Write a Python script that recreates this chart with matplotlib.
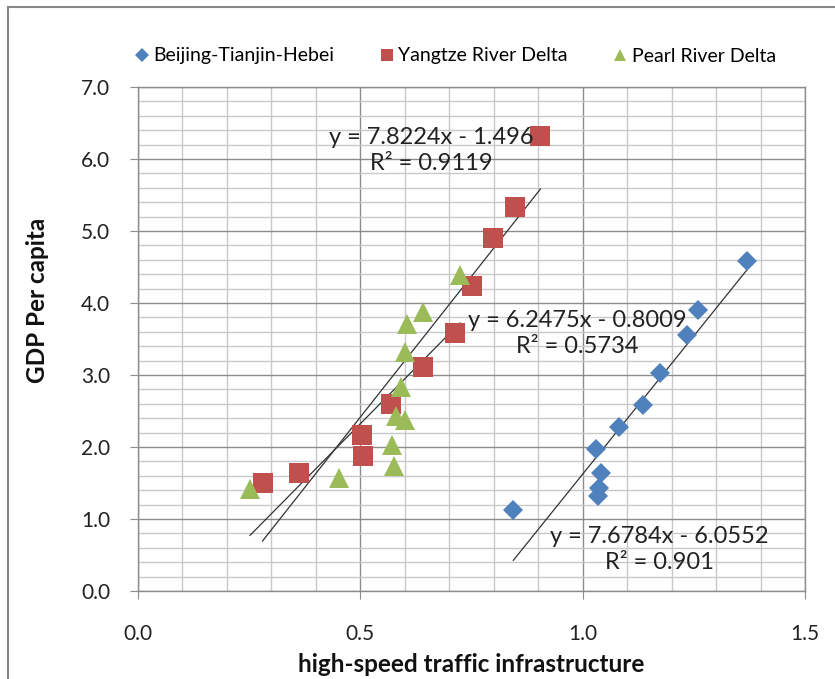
import numpy as np
import matplotlib
matplotlib.use("Agg")
import matplotlib.pyplot as plt
from matplotlib.ticker import MultipleLocator, FormatStrFormatter
from matplotlib.lines import Line2D

plt.rcParams['font.family'] = ['Lato', 'DejaVu Sans']

# --- Data ---
bth_x = [1.369, 1.260, 1.235, 1.175, 1.136, 1.081, 1.030, 1.041, 1.037, 1.035, 0.844]
bth_y = [4.58, 3.90, 3.55, 3.03, 2.59, 2.28, 1.97, 1.64, 1.43, 1.32, 1.13]

yrd_x = [0.905, 0.848, 0.798, 0.752, 0.714, 0.640, 0.570, 0.504, 0.507, 0.363, 0.280]
yrd_y = [6.32, 5.34, 4.90, 4.24, 3.59, 3.11, 2.60, 2.17, 1.87, 1.64, 1.50]

prd_x = [0.724, 0.642, 0.604, 0.600, 0.591, 0.581, 0.600, 0.572, 0.576, 0.452, 0.252]
prd_y = [4.39, 3.88, 3.71, 3.32, 2.83, 2.43, 2.38, 2.03, 1.74, 1.57, 1.41]

# trendline coefficients (slope, intercept) and R^2 as printed on the chart
bth_fit = (7.6784, -6.0552, "0.901")
yrd_fit = (7.8224, -1.496, "0.9119")
prd_fit = (6.2475, -0.8009, "0.5734")

series_names = ["Beijing-Tianjin-Hebei", "Yangtze River Delta", "Pearl River Delta"]
colors = ["#4F81BD", "#C0504D", "#9BBB59"]

# --- Figure ---
W, H = 835, 679
fig = plt.figure(figsize=(W / 100, H / 100), dpi=100)
ax = fig.add_axes([138 / W, 1 - 591 / H, (805 - 138) / W, (591 - 87) / H])

ax.set_xlim(0, 1.5)
ax.set_ylim(0, 7)
ax.xaxis.set_major_locator(MultipleLocator(0.5))
ax.xaxis.set_minor_locator(MultipleLocator(0.1))
ax.yaxis.set_major_locator(MultipleLocator(1.0))
ax.yaxis.set_minor_locator(MultipleLocator(0.2))
ax.xaxis.set_major_formatter(FormatStrFormatter('%.1f'))
ax.yaxis.set_major_formatter(FormatStrFormatter('%.1f'))

ax.grid(which='minor', color='#c8c8c8', linewidth=1.0)
ax.grid(which='major', color='#8c8c8c', linewidth=1.0)
ax.set_axisbelow(True)
for sp in ax.spines.values():
    sp.set_color('#8c8c8c')
    sp.set_linewidth(1.0)

ax.tick_params(which='major', direction='out', length=6, color='#8c8c8c',
               labelsize=15, labelcolor='#222222')
ax.tick_params(which='minor', length=0)
ax.tick_params(axis='x', pad=18)
ax.tick_params(axis='y', pad=14)

# trendlines over each series' x range
for xs, fit in [(bth_x, bth_fit), (yrd_x, yrd_fit), (prd_x, prd_fit)]:
    xx = np.array([min(xs), max(xs)])
    ax.plot(xx, fit[0] * xx + fit[1], color='#333333', linewidth=0.9, zorder=3)

# markers
ax.plot(bth_x, bth_y, 'D', color=colors[0], markersize=10, markeredgewidth=0, zorder=4)
ax.plot(yrd_x, yrd_y, 's', color=colors[1], markersize=14, markeredgewidth=0, zorder=4)
ax.plot(prd_x, prd_y, '^', color=colors[2], markersize=14, markeredgewidth=0, zorder=4)


# equation labels (placed like the Excel trendline labels)
def eq_label(x, y, fit):
    txt = f"y = {fit[0]}x - {abs(fit[1])}\nR\u00b2 = {fit[2]}"
    ax.text(x, y, txt, ha='center', va='center', fontsize=17, color='#222222',
            linespacing=1.3, zorder=5)


eq_label(0.659, 6.12, yrd_fit)
eq_label(0.988, 3.58, prd_fit)
eq_label(1.173, 0.58, bth_fit)

# axis titles
fig.text(471 / W, 1 - 664 / H, "high-speed traffic infrastructure", ha='center', va='center',
         fontsize=17.5, fontweight='bold', color='#111111')
fig.text(38 / W, 1 - 300 / H, "GDP Per capita", ha='center', va='center', rotation=90,
         fontsize=17.5, fontweight='bold', color='#111111')

# legend
handles = [
    Line2D([0], [0], marker='D', color=colors[0], linestyle='none', markersize=7, markeredgewidth=0),
    Line2D([0], [0], marker='s', color=colors[1], linestyle='none', markersize=9, markeredgewidth=0),
    Line2D([0], [0], marker='^', color=colors[2], linestyle='none', markersize=9, markeredgewidth=0),
]
fig.legend(handles, series_names, loc='center', bbox_to_anchor=(456 / W, 1 - 56 / H), ncol=3,
           frameon=False, fontsize=14, handlelength=0.6, handletextpad=0.3, columnspacing=2.4)

# chart border (left and top edges visible)
fig.add_artist(Line2D([8 / W, 8 / W], [0, 1 - 7 / H], color='#888888', linewidth=1.5))
fig.add_artist(Line2D([8 / W, 1], [1 - 7 / H, 1 - 7 / H], color='#888888', linewidth=1.5))

fig.savefig("out.png", dpi=100)
